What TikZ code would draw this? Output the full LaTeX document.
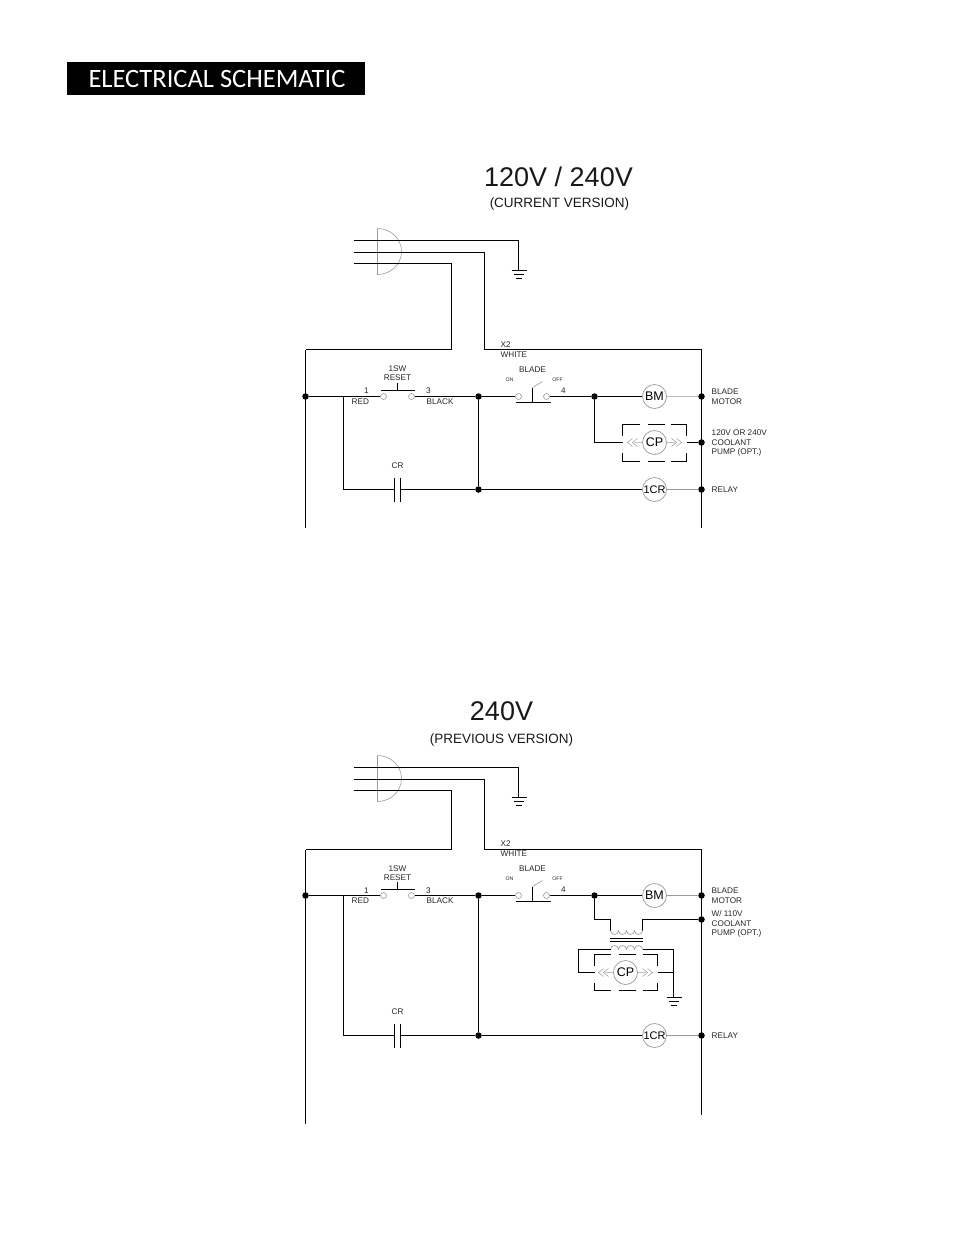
\documentclass[tikz,border=0pt]{standalone}
\usepackage{fontspec}
\setmainfont{Liberation Sans}
\newfontfamily\titlefont{Carlito}
\definecolor{thin}{gray}{0.6}
\tikzset{
 wire/.style={line width=1.1pt,black},
 graywire/.style={line width=0.8pt,color=thin},
 lightwire/.style={line width=0.6pt,color=thin},
 joint/.style={circle,fill=black,inner sep=0pt,minimum size=6.5pt},
 term/.style={circle,draw=thin,line width=0.6pt,fill=white,inner sep=0pt,minimum size=6pt},
 coilc/.style={circle,draw=thin,line width=0.7pt,fill=white,inner sep=0pt,minimum size=24pt,font=\fontsize{12.5}{13}\selectfont},
 lab/.style={inner sep=0pt,font=\fontsize{8.2}{9}\selectfont,text=black!85},
 tiny/.style={inner sep=0pt,font=\fontsize{5.2}{6}\selectfont,text=black!85},
 dashbox/.style={line width=1.1pt},
 chev/.style={line width=0.5pt,color=thin},
 head/.style={inner sep=0pt,font=\fontsize{27}{29}\selectfont,text=black!90},
 subhead/.style={inner sep=0pt,font=\fontsize{13.5}{15}\selectfont,text=black!90}
}
\begin{document}
\begin{tikzpicture}[x=1pt,y=-1pt]
\useasboundingbox (0,0) rectangle (954,1235);
\node[fill=black,text=white,anchor=north west,minimum width=298pt,minimum height=33pt,inner sep=0pt] (title) at (67,62) {};
\node[text=white,inner sep=0pt,anchor=center,font=\titlefont\fontsize{26.5}{28}\selectfont] (titletext) at (217,79) {ELECTRICAL SCHEMATIC};
\begin{scope}[shift={(0.5,0.5)}]
% ---------- upper diagram ----------
\node[head] (h1) at (558,176) {120V / 240V};
\node[subhead] (s1) at (559,204) {(CURRENT VERSION)};

\coordinate (w1a) at (353,240); \coordinate (w2a) at (353,252); \coordinate (w3a) at (353,263);
\coordinate (g1) at (518,270);
\draw[lightwire] (377,228) -- (377,274) arc[start angle=90,end angle=-90,x radius=24,y radius=23];
\draw[wire] (w1a) -| (g1);
\draw[wire] (511,270)--(526,270) (513,274)--(523,274) (515,278)--(521,278);
\coordinate (railL) at (305,349); \coordinate (railR) at (701,349);
\draw[wire] (w2a) -| (484,349) -- (railR);
\draw[wire] (w3a) -| (451,349) -- (railL);
\coordinate (railLe) at (305,527); \coordinate (railRe) at (701,527);
\draw[wire] (railL) -- (railLe);
\draw[wire] (railR) -- (railRe);

\node[joint] (a1) at (305,396) {};
\node[joint] (a2) at (478,396) {};
\node[joint] (a3) at (594,396) {};
\node[joint] (a4) at (701,396) {};
\node[joint] (a5) at (701,442) {};
\node[joint] (a6) at (478,489) {};
\node[joint] (a7) at (701,489) {};
\coordinate (ab) at (343,396);
\coordinate (ac) at (343,489);
\node[term] (t1) at (383,396) {};
\node[term] (t2) at (411,396) {};
\node[term] (t3) at (518,396) {};
\node[term] (t4) at (546,396) {};
\node[coilc] (bm) at (654,396) {BM};
\node[coilc] (cp) at (654,442) {CP};
\node[coilc,font=\fontsize{11}{12}\selectfont] (cr) at (654,489) {1CR};
\draw[wire] (a1) -- (t1);
\draw[wire] (t2) -- (a2);
\draw[wire] (a2) -- (t3);
\draw[wire] (t4) -- (a3);
\draw[wire] (a3) -- (bm);
\draw[graywire,line width=1.6pt,color=black!25] (bm) -- (a4);
\draw[wire] (a2) -- (a6);
\draw[wire] (ab) -- (ac) -- (394,489);
\draw[wire] (400,489) -- (a6);
\draw[wire] (a6) -- (cr);
\draw[graywire] (cr) -- (a7);
\draw[wire] (394,477)--(394,501) (400,477)--(400,501);
\draw[wire] (380,390)--(414,390) (397,382)--(397,390);
\draw[wire] (515,402)--(550,402) (532,402)--(532,387);
\draw[lightwire] (532,387)--(542,381);
\draw[wire] (a3) |- (622,442);
\draw[wire] (686,442) -- (a5);
\draw[dashbox] (622,435)--(622,424)--(639,424) (647,424)--(664,424) (670,424)--(686,424)--(686,435)
 (622,452)--(622,461)--(639,461) (647,461)--(664,461) (670,461)--(686,461)--(686,452);
\draw[chev] (642,442)--(634,442) (632,438)--(627,442)--(632,446) (637,438)--(632,442)--(637,446);
\draw[chev] (666,442)--(674,442) (676,438)--(681,442)--(676,446) (671,438)--(676,442)--(671,446);

\node[lab,anchor=west] at (500,344) {X2};
\node[lab,anchor=west] at (500,354) {WHITE};
\node[lab] at (397,368) {1SW};
\node[lab] at (397,377) {RESET};
\node[lab] at (366,390) {1};
\node[lab,anchor=west] at (351,401) {RED};
\node[lab] at (428,390) {3};
\node[lab,anchor=west] at (426,401) {BLACK};
\node[lab] at (532,369) {BLADE};
\node[tiny] at (509,379) {ON};
\node[tiny] at (557,379) {OFF};
\node[lab] at (563,390) {4};
\node[lab] at (397,465) {CR};
\node[lab,anchor=west] at (711,391) {BLADE};
\node[lab,anchor=west] at (711,401) {MOTOR};
\node[lab,anchor=west] at (711,432) {120V OR 240V};
\node[lab,anchor=west] at (711,442) {COOLANT};
\node[lab,anchor=west] at (711,452) {PUMP (OPT.)};
\node[lab,anchor=west] at (711,489) {RELAY};

% ---------- lower diagram ----------
\node[head] (h2) at (501,711) {240V};
\node[subhead] (s2) at (501,739) {(PREVIOUS VERSION)};

\coordinate (W1a) at (353,767); \coordinate (W2a) at (353,779); \coordinate (W3a) at (353,790);
\coordinate (G1) at (518,797);
\draw[lightwire] (377,755) -- (377,801) arc[start angle=90,end angle=-90,x radius=24,y radius=23];
\draw[wire] (W1a) -| (G1);
\draw[wire] (511,797)--(526,797) (513,801)--(523,801) (515,805)--(521,805);
\coordinate (RailL) at (305,849); \coordinate (RailR) at (701,849);
\draw[wire] (W2a) -| (484,849) -- (RailR);
\draw[wire] (W3a) -| (451,849) -- (RailL);
\coordinate (RailLe) at (305,1123); \coordinate (RailRe) at (701,1114);
\draw[wire] (RailL) -- (RailLe);
\draw[wire] (RailR) -- (RailRe);

\node[joint] (b1) at (305,895) {};
\node[joint] (b2) at (478,895) {};
\node[joint] (b3) at (594,895) {};
\node[joint] (b4) at (701,895) {};
\node[joint] (b5) at (701,919) {};
\node[joint] (b6) at (478,1035) {};
\node[joint] (b7) at (701,1035) {};
\coordinate (bb) at (343,895);
\coordinate (bc) at (343,1035);
\node[term] (T1) at (383,895) {};
\node[term] (T2) at (411,895) {};
\node[term] (T3) at (518,895) {};
\node[term] (T4) at (546,895) {};
\node[coilc] (BM) at (654,895) {BM};
\node[coilc] (CP) at (625,972) {CP};
\node[coilc,font=\fontsize{11}{12}\selectfont] (CR) at (654,1035) {1CR};
\draw[wire] (b1) -- (T1);
\draw[wire] (T2) -- (b2);
\draw[wire] (b2) -- (T3);
\draw[wire] (T4) -- (b3);
\draw[wire] (b3) -- (BM);
\draw[graywire] (BM) -- (b4);
\draw[wire] (b2) -- (b6);
\draw[wire] (bb) -- (bc) -- (394,1035);
\draw[wire] (400,1035) -- (b6);
\draw[wire] (b6) -- (CR);
\draw[graywire] (CR) -- (b7);
\draw[wire] (394,1023)--(394,1047) (400,1023)--(400,1047);
\draw[wire] (380,889)--(414,889) (397,881)--(397,889);
\draw[wire] (515,901)--(550,901) (532,901)--(532,886);
\draw[lightwire] (532,886)--(542,880);
% transformer
\draw[wire] (b3) |- (610,919) -- (610,930);
\draw[wire] (b5) -- (642,919) -- (642,930);
\draw[lightwire] (610,930) arc[start angle=180,end angle=0,radius=4] arc[start angle=180,end angle=0,radius=4] arc[start angle=180,end angle=0,radius=4] arc[start angle=180,end angle=0,radius=4];
\draw[wire] (609,938)--(642,938) (609,941)--(642,941);
\draw[lightwire] (610,949) arc[start angle=180,end angle=360,radius=4] arc[start angle=180,end angle=360,radius=4] arc[start angle=180,end angle=360,radius=4] arc[start angle=180,end angle=360,radius=4];
\draw[wire] (610,949) -- (578,949) -- (578,972) -- (594,972);
\draw[wire] (642,949) -- (673,949) -- (673,997);
\draw[wire] (657,972) -- (673,972);
\draw[wire] (666,997)--(681,997) (668,1001)--(678,1001) (670,1005)--(676,1005);
\draw[dashbox] (594,965)--(594,954)--(610,954) (618,954)--(635,954) (642,954)--(657,954)--(657,965)
 (594,982)--(594,990)--(610,990) (618,990)--(635,990) (642,990)--(657,990)--(657,982);
\draw[chev] (613,972)--(605,972) (603,968)--(598,972)--(603,976) (608,968)--(603,972)--(608,976);
\draw[chev] (637,972)--(645,972) (647,968)--(652,972)--(647,976) (642,968)--(647,972)--(642,976);

\node[lab,anchor=west] at (500,843) {X2};
\node[lab,anchor=west] at (500,853.5) {WHITE};
\node[lab] at (397,868) {1SW};
\node[lab] at (397,877) {RESET};
\node[lab] at (366,890) {1};
\node[lab,anchor=west] at (351,900) {RED};
\node[lab] at (428,890) {3};
\node[lab,anchor=west] at (426,900) {BLACK};
\node[lab] at (532,868) {BLADE};
\node[tiny] at (509,878.5) {ON};
\node[tiny] at (557,878.5) {OFF};
\node[lab] at (563,889.5) {4};
\node[lab] at (397,1011) {CR};
\node[lab,anchor=west] at (711,890.5) {BLADE};
\node[lab,anchor=west] at (711,900) {MOTOR};
\node[lab,anchor=west] at (711,913) {W/ 110V};
\node[lab,anchor=west] at (711,923) {COOLANT};
\node[lab,anchor=west] at (711,933) {PUMP (OPT.)};
\node[lab,anchor=west] at (711,1035) {RELAY};
\end{scope}
\end{tikzpicture}
\end{document}
